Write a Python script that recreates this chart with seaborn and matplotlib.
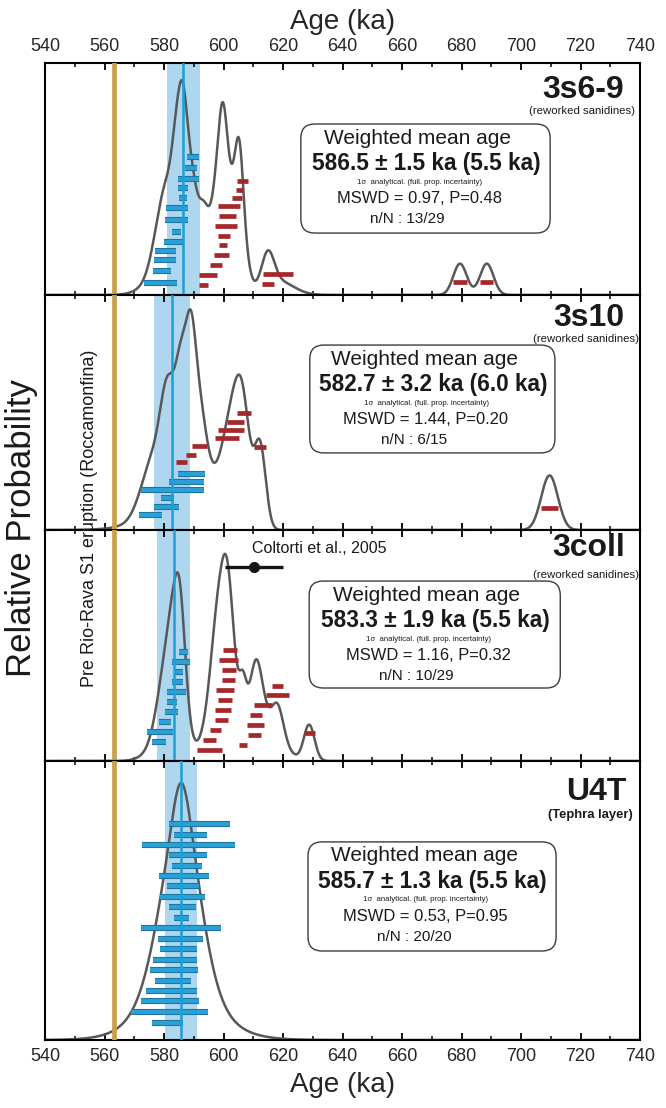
import numpy as np
import matplotlib
matplotlib.use("Agg")
import matplotlib.pyplot as plt
import matplotlib.patheffects as pe
from matplotlib.patches import FancyBboxPatch
from matplotlib.ticker import MultipleLocator
import seaborn as sns

# --- single-grain ages (ka), 1 sigma errors and plotting level, per sample ---
# 3s6-9
s1_ok_age = [589.7, 589.0, 588.3, 586.3, 586.4, 584.4, 584.2, 584.2, 583.3, 580.5, 580.4, 579.3, 578.9]
s1_ok_err = [1.9, 2.0, 3.5, 1.7, 1.4, 3.8, 3.7, 1.5, 3.3, 3.6, 3.8, 2.9, 5.6]
s1_ok_y = [0.644, 0.590, 0.540, 0.497, 0.450, 0.404, 0.349, 0.295, 0.248, 0.206, 0.163, 0.111, 0.057]
s1_rej_age = [606.4, 605.4, 604.4, 601.8, 601.4, 600.9, 600.1, 599.8, 599.4, 597.4, 594.8, 593.3,
              618.4, 614.9, 679.5, 688.5]
s1_rej_err = [2.0, 1.3, 1.7, 3.6, 2.8, 3.8, 2.0, 1.4, 2.6, 2.0, 3.1, 1.6, 5.1, 2.1, 2.25, 2.25]
s1_rej_y = [0.530, 0.489, 0.450, 0.415, 0.368, 0.323, 0.276, 0.233, 0.186, 0.139, 0.093, 0.046,
            0.097, 0.051, 0.060, 0.060]

# 3s10
s2_ok_age = [589.3, 587.6, 582.8, 581.2, 580.8, 575.4]
s2_ok_err = [4.5, 5.8, 10.6, 2.3, 4.2, 3.8]
s2_ok_y = [0.253, 0.219, 0.183, 0.145, 0.105, 0.068]
s2_rej_age = [606.9, 604.1, 602.6, 601.2, 612.3, 591.9, 589.0, 585.8, 709.6]
s2_rej_err = [2.3, 2.8, 4.4, 4.1, 1.9, 2.4, 1.65, 1.85, 2.8]
s2_rej_y = [0.531, 0.491, 0.455, 0.419, 0.376, 0.380, 0.339, 0.310, 0.098]

# 3coll
s3_ok_age = [586.5, 585.6, 585.0, 584.6, 584.2, 582.8, 582.5, 580.3, 578.7, 578.3]
s3_ok_err = [1.6, 3.0, 1.45, 1.95, 3.1, 1.7, 2.15, 1.95, 4.45, 2.35]
s3_ok_y = [0.524, 0.478, 0.428, 0.380, 0.331, 0.283, 0.235, 0.187, 0.142, 0.094]
s3_rej_age = [602.1, 601.7, 601.8, 601.6, 600.6, 600.5, 599.8, 599.3, 597.3, 595.4, 595.4,
              618.2, 618.2, 613.4, 611.0, 610.9, 610.4, 606.5, 628.8]
s3_rej_err = [2.35, 3.15, 2.4, 2.2, 3.0, 2.2, 2.65, 2.15, 1.75, 2.15, 4.2,
              1.95, 3.85, 3.05, 2.1, 2.85, 2.15, 1.3, 1.8]
s3_rej_y = [0.535, 0.486, 0.438, 0.389, 0.341, 0.293, 0.244, 0.196, 0.148, 0.100, 0.051,
            0.363, 0.317, 0.269, 0.221, 0.173, 0.124, 0.076, 0.137]

# U4T
s4_ok_age = [591.9, 589.0, 588.2, 588.0, 587.7, 586.7, 586.5, 586.2, 586.2, 585.8,
             585.7, 585.5, 584.8, 583.8, 583.4, 583.0, 582.4, 581.9, 581.8, 581.2]
s4_ok_err = [10.2, 5.6, 15.5, 6.3, 5.1, 8.4, 5.4, 7.7, 4.5, 2.6,
             13.5, 7.5, 6.3, 7.4, 8.1, 6.0, 8.6, 9.7, 12.9, 5.3]
s4_ok_y = [0.840, 0.799, 0.758, 0.718, 0.678, 0.637, 0.597, 0.557, 0.516, 0.474,
           0.434, 0.394, 0.353, 0.312, 0.271, 0.231, 0.191, 0.151, 0.109, 0.067]
s4_rej_age, s4_rej_err, s4_rej_y = [], [], []

sample_names = ["3s6-9", "3s10", "3coll", "U4T"]
sample_notes = ["(reworked sanidines)", "(reworked sanidines)", "(reworked sanidines)", "(Tephra layer)"]
wm_age = [586.5, 582.7, 583.3, 585.7]
wm_err = [1.5, 3.2, 1.9, 1.3]
wm_full = [5.5, 6.0, 5.5, 5.5]
mswd = [0.97, 1.44, 1.16, 0.53]
pval = [0.48, 0.20, 0.32, 0.95]
n_used = [13, 6, 10, 20]
n_total = [29, 15, 29, 20]

eruption_age = 563.2
coltorti_age, coltorti_err, coltorti_y = 610.3, 9.8, 0.938

panels = [
    (s1_ok_age, s1_ok_err, s1_ok_y, s1_rej_age, s1_rej_err, s1_rej_y),
    (s2_ok_age, s2_ok_err, s2_ok_y, s2_rej_age, s2_rej_err, s2_rej_y),
    (s3_ok_age, s3_ok_err, s3_ok_y, s3_rej_age, s3_rej_err, s3_rej_y),
    (s4_ok_age, s4_ok_err, s4_ok_y, s4_rej_age, s4_rej_err, s4_rej_y),
]

# layout
y_tops = [1.08, 1.065, 1.115, 1.085]
panel_px = [232, 235, 231, 279]
box_pos = [(0.430, 0.267, 0.849, 0.737),
           (0.445, 0.328, 0.857, 0.787),
           (0.444, 0.316, 0.866, 0.779),
           (0.442, 0.319, 0.859, 0.710)]
title_pos = [(0.973, 0.884, 0.991, 0.793),
             (0.973, 0.902, 0.998, 0.813),
             (0.975, 0.922, 0.999, 0.805),
             (0.978, 0.889, 0.988, 0.806)]

c_curve = "#585858"
c_blue = "#2aa0d6"
c_blue_edge = "#1a6a94"
c_red = "#a5282c"
c_span = "#aed6ee"
c_line = "#1a9fd8"
c_gold = "#c9a14c"

sns.set_theme(style="white")
plt.rcParams["font.family"] = ["Liberation Sans", "DejaVu Sans"]

fig = plt.figure(figsize=(6.66, 11.08), dpi=100)
gs = fig.add_gridspec(4, 1, height_ratios=panel_px, hspace=0,
                      left=45 / 666, right=640 / 666, top=1 - 63 / 1108, bottom=1 - 1040 / 1108)

grid = np.linspace(540, 740, 2001)


def prob_curve(ages, errs):
    a = np.asarray(ages)[:, None]
    s = np.asarray(errs)[:, None]
    dens = (np.exp(-0.5 * ((grid - a) / s) ** 2) / s).sum(axis=0)
    return dens / dens.max()


axes = []
for i, (ok_a, ok_e, ok_y, rj_a, rj_e, rj_y) in enumerate(panels):
    ax = fig.add_subplot(gs[i])
    axes.append(ax)

    ax.axvspan(wm_age[i] - wm_full[i], wm_age[i] + wm_full[i], color=c_span, lw=0, zorder=0)
    ax.axvline(eruption_age, color=c_gold, lw=3.4, zorder=5)

    curve = prob_curve(list(ok_a) + list(rj_a), list(ok_e) + list(rj_e))
    sns.lineplot(x=grid, y=curve, ax=ax, color=c_curve, lw=1.8, estimator=None, zorder=2)

    ok_a, ok_e = np.array(ok_a), np.array(ok_e)
    ax.hlines(ok_y, ok_a - ok_e, ok_a + ok_e, color=c_blue, lw=3.2, capstyle="butt", zorder=3,
              path_effects=[pe.Stroke(linewidth=4.4, foreground=c_blue_edge), pe.Normal()])
    if len(rj_a):
        rj_a, rj_e = np.array(rj_a), np.array(rj_e)
        ax.hlines(rj_y, rj_a - rj_e, rj_a + rj_e, color=c_red, lw=3.4, capstyle="butt", zorder=3)

    ax.axvline(wm_age[i], color=c_line, lw=1.8, zorder=4)

    ax.set_xlim(540, 740)
    ax.set_ylim(0, y_tops[i])
    ax.set_yticks([])
    ax.xaxis.set_major_locator(MultipleLocator(20))
    ax.xaxis.set_minor_locator(MultipleLocator(10))
    ax.tick_params(axis="x", which="both", direction="in", top=True, bottom=True,
                   labeltop=False, labelbottom=False, color="black")
    ax.tick_params(axis="x", which="major", length=5, width=1.3, labelsize=13, pad=6)
    ax.tick_params(axis="x", which="minor", length=3, width=1.1)
    for sp in ax.spines.values():
        sp.set_visible(True)
        sp.set_color("black")
        sp.set_linewidth(1.5)
    ax.set_xlabel("")
    ax.set_ylabel("")

    # sample name
    tx, ty, sx, sy = title_pos[i]
    ax.text(tx, ty, sample_names[i], transform=ax.transAxes, ha="right", va="center",
            fontsize=23, fontweight="bold", color="#1a1a1a")
    ax.text(sx, sy, sample_notes[i], transform=ax.transAxes, ha="right", va="center",
            fontsize=9.4 if i == 3 else 8.2, fontweight="bold" if i == 3 else "normal",
            color="#1a1a1a")

    # weighted mean box
    x0, y0, x1, y1 = box_pos[i]
    rx = 14 / 595
    box = FancyBboxPatch((x0, y0), x1 - x0, y1 - y0, transform=ax.transAxes,
                         boxstyle=f"round,pad=0,rounding_size={rx}",
                         mutation_aspect=595 / panel_px[i],
                         fc="white", ec="#3c3c3c", lw=1.0, zorder=6)
    ax.add_patch(box)
    cx = (x0 + x1) / 2
    lines = [
        ("Weighted mean age", 15, "normal", -8, 14),
        (f"{wm_age[i]:.1f} ± {wm_err[i]:.1f} ka ({wm_full[i]:.1f} ka)", 16.3, "bold", 0.5, 39.6),
        ("1σ  analytical. (full. prop. incertainty)", 5.6, "normal", -6, 58),
        (f"MSWD = {mswd[i]:.2f}, P={pval[i]:.2f}", 11.9, "normal", -6.5, 74.5),
        (f"n/N : {n_used[i]}/{n_total[i]}", 11, "normal", -18, 94.7),
    ]
    for txt, fs, fw, dx, dy in lines:
        ax.annotate(txt, xy=(cx, y1), xycoords="axes fraction",
                    xytext=(dx * 0.72, -dy * 0.72), textcoords="offset points",
                    ha="center", va="center", fontsize=fs, fontweight=fw,
                    color="#1a1a1a", zorder=7)

# Coltorti et al. reference age in the 3coll panel
ax3 = axes[2]
ax3.errorbar([coltorti_age], [coltorti_y], xerr=[coltorti_err], fmt="o", color="#151515",
             ms=7, lw=2.4, capsize=0, zorder=5)
ax3.text(609.5, 0.918, "Coltorti et al., 2005", transform=ax3.get_xaxis_transform(),
         ha="left", va="center", fontsize=11.5, color="#1a1a1a")

# top and bottom age axes
axes[0].tick_params(axis="x", which="major", labeltop=True)
axes[0].xaxis.set_label_position("top")
axes[0].set_xlabel("Age (ka)", fontsize=20, labelpad=6)
axes[3].tick_params(axis="x", which="major", labelbottom=True)
axes[3].set_xlabel("Age (ka)", fontsize=20, labelpad=5)

fig.text(22 / 666, 1 - 528 / 1108, "Relative Probability", rotation=90,
         ha="center", va="center", fontsize=25, color="#1a1a1a")
fig.text(90 / 666, 1 - 518 / 1108, "Pre Rio-Rava S1 eruption (Roccamonfina)", rotation=90,
         ha="center", va="center", fontsize=13, color="#1a1a1a", zorder=10)

fig.savefig("out.png", dpi=100, facecolor="white")
